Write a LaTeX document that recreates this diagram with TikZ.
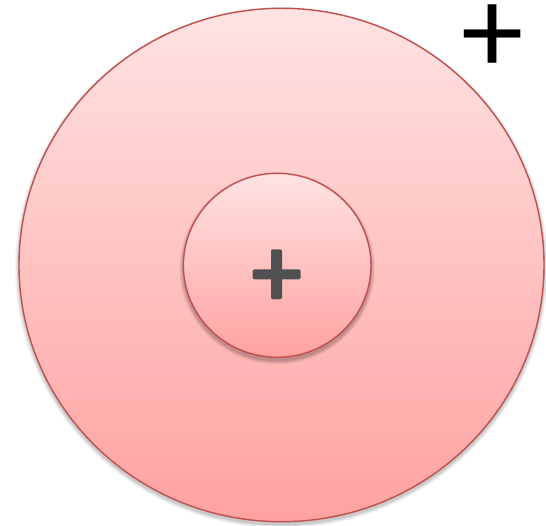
\documentclass[tikz,border=0pt]{standalone}
\usepackage{fontspec}
\newfontfamily\plusfont{Carlito}
\definecolor{rimred}{HTML}{C0504D}
\definecolor{pinktop}{HTML}{FFE3E3}
\definecolor{pinkbot}{HTML}{FFA2A1}
\definecolor{plusgray}{HTML}{505050}
\tikzset{
  disc/.style={draw=rimred, line width=1.4pt, top color=pinktop, bottom color=pinkbot},
  softshadow/.style={fill=black, fill opacity=#1, draw=none},
  plusbar/.style={fill=plusgray, draw=none, rounded corners=2pt},
}
\begin{document}
\begin{tikzpicture}[x=1pt,y=1pt]
\useasboundingbox (0,0) rectangle (546,526);
\fill[white] (0,0) rectangle (546,526);
% outer disc shadow
\foreach \d/\o in {4/0.04,3/0.05,2/0.06,1/0.07}{
  \fill[softshadow=\o] (281.5,258.5) ellipse [x radius=262.5pt+\d pt, y radius=256.7pt+\d pt];
}
\draw[disc] (281.5,261) ellipse [x radius=262.5pt, y radius=256.7pt];
% inner disc shadow
\foreach \d/\o in {4/0.05,3/0.06,2/0.07,1/0.08}{
  \fill[softshadow=\o] (277.2,257.7) ellipse [x radius=93.8pt+\d pt, y radius=92pt+\d pt];
}
\draw[disc] (277.2,260.7) ellipse [x radius=93.8pt, y radius=92pt];
% inner plus
\fill[plusbar] (271,226.7) rectangle (282,276.7);
\fill[plusbar] (252.7,246.7) rectangle (300.7,256.7);
% corner plus
\node[inner sep=0pt, font=\plusfont\fontsize{125}{125}\selectfont] (cornerplus) at (492.4,487.2) {+};
\end{tikzpicture}
\end{document}
